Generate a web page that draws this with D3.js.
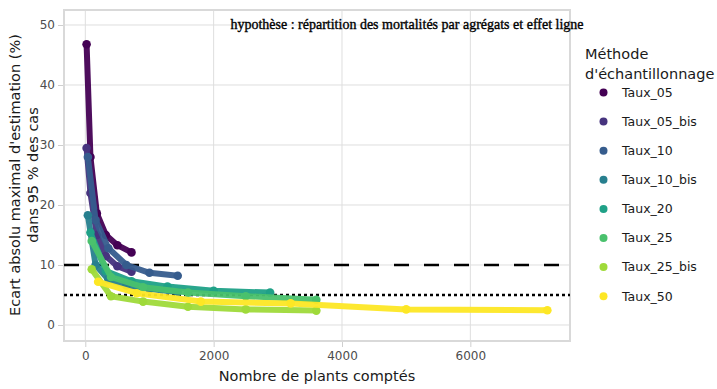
<!DOCTYPE html>
<html>
<head>
<meta charset="utf-8">
<script src="https://cdn.jsdelivr.net/npm/d3@7"></script>
<style>
  body { margin: 0; background: #fff; }
  svg { display: block; }
  .tick text { font-family: "DejaVu Sans", Verdana, sans-serif; font-size: 12px; fill: #4d4d4d; }
</style>
</head>
<body>
<div id="chart"></div>
<script>
const W = 717, H = 389;
const M = { top: 10, right: 147, bottom: 48, left: 64 };

const series = ["Taux_05", "Taux_05_bis", "Taux_10", "Taux_10_bis", "Taux_20", "Taux_25", "Taux_25_bis", "Taux_50"];
const colors = ["#440154", "#46337E", "#365C8D", "#277F8E", "#1FA187", "#4AC16D", "#9FDA3A", "#FDE725"];

const x_05 = [20, 80, 180, 320, 500, 720];
const x_10 = [40, 160, 360, 640, 1000, 1440];
const x_20 = [80, 320, 720, 1280, 2000, 2880];
const x_25 = [100, 400, 900, 1600, 2500, 3600];
const x_50 = [200, 800, 1800, 3200, 5000, 7200];

const y_05 = [46.8, 28.0, 18.6, 15.0, 13.3, 12.1];
const y_05_bis = [29.5, 22.0, 15.0, 11.5, 9.8, 8.9];
const y_10 = [28.0, 17.5, 12.8, 10.0, 8.7, 8.2];
const y_10_bis = [18.3, 10.0, 7.6, 6.6, 6.0, 5.5];
const y_20 = [15.4, 9.0, 7.3, 6.4, 5.7, 5.4];
const y_25 = [14.0, 8.0, 6.3, 5.4, 4.8, 4.2];
const y_25_bis = [9.3, 4.8, 3.9, 3.05, 2.6, 2.4];
const y_50 = [7.2, 5.3, 3.9, 3.6, 2.6, 2.45];

const xsBySeries = [x_05, x_05, x_10, x_10, x_20, x_25, x_25, x_50];
const ysBySeries = [y_05, y_05_bis, y_10, y_10_bis, y_20, y_25, y_25_bis, y_50];

const xTicks = [0, 2000, 4000, 6000];
const yTicks = [0, 10, 20, 30, 40, 50];
const refLines = [{ v: 10, dash: "15,15" }, { v: 5, dash: "3,3" }];

const title = "hypothèse : répartition des mortalités par agrégats et effet ligne";
const xLabel = "Nombre de plants comptés";
const yLabel = ["Ecart absolu maximal d'estimation (%)", "dans 95 % des cas"];
const legendTitle = ["Méthode", "d'échantillonnage"];

const svg = d3.select("#chart").append("svg").attr("width", W).attr("height", H);
const x = d3.scaleLinear().domain([-332, 7553]).range([M.left, W - M.right]);
const y = d3.scaleLinear().domain([-2.667, 52.5]).range([H - M.bottom, M.top]);

// grid
svg.append("g").selectAll("line").data(xTicks).join("line")
  .attr("x1", (d) => x(d)).attr("x2", (d) => x(d)).attr("y1", M.top).attr("y2", H - M.bottom)
  .attr("stroke", "#dedede").attr("stroke-width", 1);
svg.append("g").selectAll("line").data(yTicks).join("line")
  .attr("y1", (d) => y(d)).attr("y2", (d) => y(d)).attr("x1", M.left).attr("x2", W - M.right)
  .attr("stroke", "#dedede").attr("stroke-width", 1);

// axes
const ax = svg.append("g").attr("transform", `translate(0,${H - M.bottom + 1})`)
  .call(d3.axisBottom(x).tickValues(xTicks).tickSize(5).tickPadding(4).tickFormat(d3.format("d")));
const ay = svg.append("g").attr("transform", `translate(${M.left - 1},0)`)
  .call(d3.axisLeft(y).tickValues(yTicks).tickSize(5).tickPadding(3));
[ax, ay].forEach((a) => {
  a.select(".domain").remove();
  a.selectAll(".tick line").attr("stroke", "#cfcfcf");
});

// panel border
svg.append("rect").attr("x", M.left).attr("y", M.top)
  .attr("width", W - M.left - M.right).attr("height", H - M.top - M.bottom)
  .attr("fill", "none").attr("stroke", "#d9d9d9").attr("stroke-width", 2);

// reference lines
svg.append("g").selectAll("line").data(refLines).join("line")
  .attr("x1", M.left).attr("x2", W - M.right).attr("y1", (d) => y(d.v)).attr("y2", (d) => y(d.v))
  .attr("stroke", "#000").attr("stroke-width", 2.4).attr("stroke-dasharray", (d) => d.dash);

// series
const line = d3.line().x((d) => x(d[0])).y((d) => y(d[1]));
const data = series.map((s, i) => ({ name: s, color: colors[i], pts: xsBySeries[i].map((v, j) => [v, ysBySeries[i][j]]) }));
const gs = svg.append("g").selectAll("g").data(data).join("g");
gs.append("path").attr("d", (d) => line(d.pts)).attr("fill", "none")
  .attr("stroke", (d) => d.color).attr("stroke-width", 6).attr("stroke-linejoin", "round").attr("opacity", 0.95);
gs.selectAll("circle").data((d) => d.pts.map((p) => ({ p, c: d.color }))).join("circle")
  .attr("cx", (d) => x(d.p[0])).attr("cy", (d) => y(d.p[1])).attr("r", 4.3).attr("fill", (d) => d.c);

// title annotation
svg.append("text").attr("x", 407).attr("y", 29).attr("text-anchor", "middle")
  .style("font-family", "'Liberation Serif', 'Times New Roman', serif").style("font-size", "14px")
  .attr("fill", "#000").attr("stroke", "#000").attr("stroke-width", 0.35).text(title);

// axis titles
svg.append("text").attr("x", (M.left + W - M.right) / 2).attr("y", 381).attr("text-anchor", "middle")
  .style("font-family", "'DejaVu Sans', Verdana, sans-serif").style("font-size", "14.5px")
  .attr("fill", "#1a1a1a").text(xLabel);
svg.append("g").attr("transform", "translate(0,175) rotate(-90)").selectAll("text").data(yLabel).join("text")
  .attr("x", 0).attr("y", (d, i) => 20 + i * 18).attr("text-anchor", "middle")
  .style("font-family", "'DejaVu Sans', Verdana, sans-serif").style("font-size", "14.5px")
  .attr("fill", "#1a1a1a").text((d) => d);

// legend
const lg = svg.append("g");
lg.selectAll(".lt").data(legendTitle).join("text").attr("class", "lt")
  .attr("x", 585).attr("y", (d, i) => 59 + i * 20)
  .style("font-family", "'DejaVu Sans', Verdana, sans-serif").style("font-size", "14.5px")
  .attr("fill", "#1a1a1a").text((d) => d);
const li = lg.selectAll(".li").data(series).join("g").attr("class", "li")
  .attr("transform", (d, i) => `translate(0,${92.5 + i * 29.1})`);
li.append("circle").attr("cx", 603.5).attr("cy", 0).attr("r", 4).attr("fill", (d, i) => colors[i]);
li.append("text").attr("x", 622).attr("y", 0).attr("dy", "0.35em")
  .style("font-family", "'DejaVu Sans', Verdana, sans-serif").style("font-size", "12.5px")
  .attr("fill", "#1a1a1a").text((d) => d);
</script>
</body>
</html>
